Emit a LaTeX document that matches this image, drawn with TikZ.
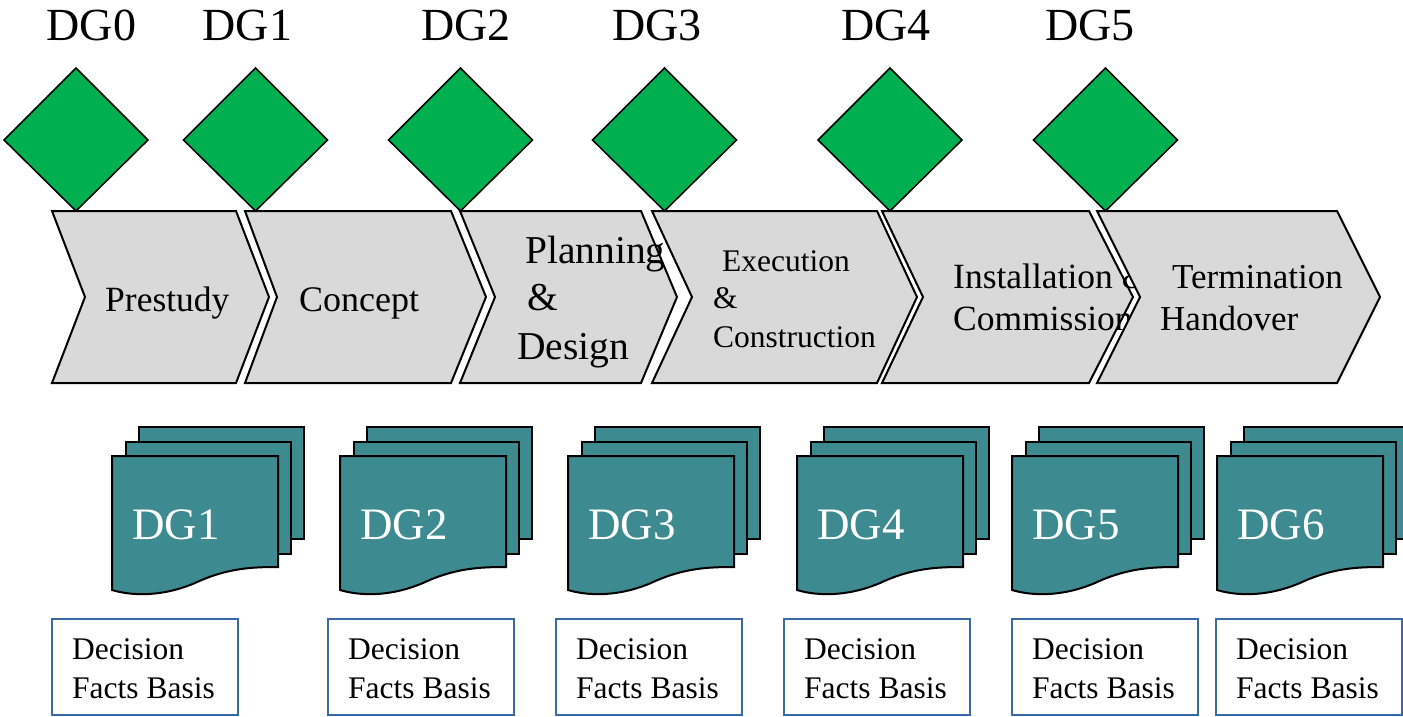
\documentclass[tikz,border=0pt]{standalone}
\usepackage{fontspec}
\setmainfont{Liberation Serif}
\newfontfamily\tnr{Liberation Serif}
\definecolor{dggreen}{RGB}{0,176,80}
\definecolor{docteal}{RGB}{61,139,145}
\definecolor{chevgray}{RGB}{217,217,217}
\definecolor{boxblue}{RGB}{58,106,166}
\newcommand\fsz[1]{\tnr\fontsize{#1}{#1}\selectfont}
\begin{document}
\begin{tikzpicture}[x=1pt,y=-1pt,
  gate/.style={fill=dggreen,draw=black,line width=1.5pt,line join=miter},
  chev/.style={fill=chevgray,draw=black,line width=2pt,line join=miter},
  page/.style={fill=docteal,draw=black,line width=2pt,line join=miter},
  factbox/.style={draw=boxblue,line width=1.5pt,fill=white},
  lbl/.style={inner sep=0pt,anchor=base west}]
\useasboundingbox (0,0) rectangle (1403,716);
% decision gates
\foreach \cx/\lx/\i in {76/91.5/0, 255.5/247.5/1, 460.5/466/2, 664.5/657/3, 890/886/4, 1105.5/1090/5}{
  \path[gate] (\cx-72,140) -- (\cx,68) -- (\cx+72,140) -- (\cx,211) -- cycle;
  \node[inner sep=0pt,anchor=base,font=\fsz{46}] (dg\i) at (\lx,40) {DG\i};
}
% chevrons
\path[chev] (52,211) -- (236,211) -- (269,297) -- (236,383) -- (52,383) -- (85,297) -- cycle;
\node[lbl,font=\fsz{35.5}] (prestudy) at (105,311) {Prestudy};
\path[chev] (245,211) -- (451,211) -- (486,297) -- (451,383) -- (245,383) -- (277,297) -- cycle;
\node[lbl,font=\fsz{36}] (concept) at (299,311) {Concept};
\path[chev] (460,211) -- (641,211) -- (677,297) -- (641,383) -- (460,383) -- (495,297) -- cycle;
\node[lbl,font=\fsz{39.5}] (plan1) at (525,263) {Planning};
\node[lbl,font=\fsz{39.5}] (plan2) at (527,310) {\&};
\node[lbl,font=\fsz{39.5}] (plan3) at (517,359) {Design};
\path[chev] (652,211) -- (877,211) -- (917,297) -- (877,383) -- (652,383) -- (692,297) -- cycle;
\node[lbl,font=\fsz{31.5}] (exec1) at (722,271) {Execution};
\node[lbl,font=\fsz{31.5}] (exec2) at (713,308) {\&};
\node[lbl,font=\fsz{31.5}] (exec3) at (713,347) {Construction};
\path[chev] (882,211) -- (1089,211) -- (1133,297) -- (1089,383) -- (882,383) -- (923,297) -- cycle;
\node[lbl,font=\fsz{35.5}] (inst1) at (953,288) {Installation \&};
\node[lbl,font=\fsz{35.5}] (inst2) at (953,330) {Commissioning};
\path[chev] (1097,211) -- (1337,211) -- (1380,297) -- (1337,383) -- (1097,383) -- (1140,297) -- cycle;
\node[lbl,font=\fsz{35}] (term1) at (1172,288) {Termination};
\node[lbl,font=\fsz{35}] (term2) at (1160,330) {Handover};
% documents
\foreach \L/\i in {112/1, 340/2, 568/3, 797/4, 1012/5, 1217/6}{
  \path[page] (\L+27,427) rectangle ++(165,112);
  \path[page] (\L+13.5,441.5) rectangle ++(165,112);
  \path[page] (\L,456) -- (\L+166,456) -- (\L+166,567)
     .. controls (\L+140,567) and (\L+115,568) .. (\L+83,583)
     .. controls (\L+50,597) and (\L+20,596) .. (\L,590) -- cycle;
  \node[lbl,text=white,font=\fsz{45}] (doc\i) at (\L+20,539) {DG\i};
}
% decision facts boxes
\foreach \B/\i in {52/1, 328/2, 556/3, 784/4, 1012/5, 1216/6}{
  \path[factbox] (\B,619) rectangle (\B+186,715);
  \node[lbl,font=\fsz{31.5}] (dec\i) at (\B+20,659) {Decision};
  \node[lbl,font=\fsz{31.5}] (fb\i) at (\B+20,698) {Facts Basis};
}
\end{tikzpicture}
\end{document}
